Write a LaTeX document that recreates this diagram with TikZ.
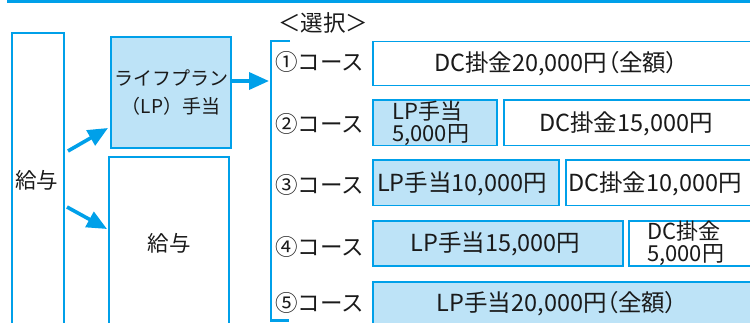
\documentclass[tikz,border=0pt]{standalone}
\usepackage{fontspec}
\setmainfont{Noto Sans CJK JP}
\newfontfamily\paltfont[RawFeature=+palt]{Noto Sans CJK JP}
\usetikzlibrary{arrows.meta}
\definecolor{cyanb}{HTML}{00A0E9}
\definecolor{lightb}{HTML}{BDE3F7}
\definecolor{txt}{HTML}{1A1A1A}
\newcommand{\rowfont}{\fontsize{23.5}{21}\selectfont}
\newcommand{\pal}[1]{{\paltfont #1}}
\begin{document}
\begin{tikzpicture}[x=1pt,y=-1pt,
  every node/.style={text=txt,inner sep=0pt},
  frame/.style={draw=cyanb,line width=1.8pt},
  lpbox/.style={frame,fill=lightb},
  dcbox/.style={frame,fill=white},
  arr/.style={draw=cyanb,line width=3.6pt,-{Triangle[length=20pt,width=17pt]}},
  course/.style={anchor=west,font=\fontsize{22.5}{24}\selectfont},
  rowtext/.style={font=\rowfont},
  twoline/.style={anchor=west,align=left,font=\fontsize{22}{22}\selectfont}]
\useasboundingbox (0,0) rectangle (750,323);
\clip (0,0) rectangle (750,323);
% top bar
\fill[cyanb] (7,0) rectangle (760,3.5);
% left column
\draw[frame] (12,33) rectangle (64,335);
\node (kyuyo1) [font=\fontsize{21.5}{22}\selectfont] at (37,180) {給与};
\draw[lpbox] (111,37) rectangle (231,148);
\node (lp) [align=center,font=\fontsize{19}{28}\selectfont] at (171,93) {ライフプラン\\（LP）手当};
\coordinate (lpR) at (231,81);
\draw[frame] (109,157) rectangle (229,335);
\node (kyuyo2) [font=\fontsize{21.5}{22}\selectfont] at (169,243) {給与};
\coordinate (a1s) at (68,151);
\coordinate (a1e) at (108,128);
\coordinate (a2s) at (67,207);
\coordinate (a2e) at (107,229);
\coordinate (a3e) at (269,81);
\draw[arr] (a1s) -- (a1e);
\draw[arr] (a2s) -- (a2e);
\draw[arr] (lpR) -- (a3e);
% bracket
\node (sentaku) [font=\fontsize{22.5}{24}\selectfont] at (323,23) {＜選択＞};
\draw[cyanb,line width=2.6pt] (290,41) -- (271,41) -- (271,320.5) -- (289,320.5);
% course labels
\node[course] (c1) at (275,62) {①コース};
\node[course] (c2) at (275,124) {②コース};
\node[course] (c3) at (275,185) {③コース};
\node[course] (c4) at (275,247) {④コース};
\node[course] (c5) at (275,303) {⑤コース};
% row 1
\draw[dcbox] (373,41.5) rectangle (760,85.5);
\node[rowtext] (r1) at (556,63.5) {DC掛金20,000円\pal{（全額）}};
% row 2
\draw[lpbox] (373,100) rectangle (497,145.5);
\node[twoline] (r2a) at (392,123) {LP手当\\5,000円};
\draw[dcbox] (504,100) rectangle (760,145.5);
\node[rowtext] (r2b) at (626,124) {DC掛金15,000円};
% row 3
\draw[lpbox] (373,160) rectangle (559,205.5);
\node[rowtext] (r3a) at (462,184) {LP手当10,000円};
\draw[dcbox] (566,160) rectangle (760,205.5);
\node[rowtext] (r3b) at (655,184) {DC掛金10,000円};
% row 4
\draw[lpbox] (373,221) rectangle (623,266);
\node[rowtext] (r4a) at (495.5,244) {LP手当15,000円};
\draw[dcbox] (629,221) rectangle (760,266);
\node[twoline] (r4b) at (647,243) {DC掛金\\5,000円};
% row 5
\draw[lpbox] (373,282) rectangle (760,335);
\node[rowtext] (r5) at (557,304) {LP手当20,000円\pal{（全額）}};
\end{tikzpicture}
\end{document}
